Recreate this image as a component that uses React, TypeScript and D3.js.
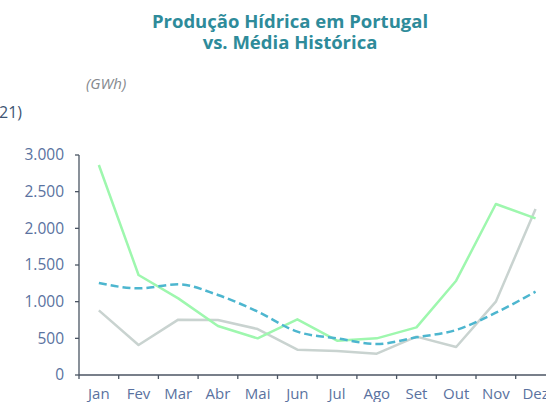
import React from "react";
import * as d3 from "d3";

const months = ["Jan", "Fev", "Mar", "Abr", "Mai", "Jun", "Jul", "Ago", "Set", "Out", "Nov", "Dez"];
const serieVerde = [2864, 1364, 1045, 668, 500, 759, 468, 500, 650, 1286, 2332, 2136];
const serieCinza = [882, 409, 755, 750, 627, 345, 327, 291, 523, 382, 1000, 2264];
const mediaHistorica = [1255, 1182, 1236, 1091, 864, 591, 500, 423, 514, 614, 850, 1136];
const yTicks = [0, 500, 1000, 1500, 2000, 2500, 3000];

const W = 546;
const H = 402;
const x0 = 79;
const bandW = 39.7;
const yBottom = 375;
const yTop = 155;

export default function App() {
  const x = d3.scaleBand<string>().domain(months).range([x0, x0 + bandW * 12]).padding(0);
  const y = d3.scaleLinear().domain([0, 3000]).range([yBottom, yTop]);
  const cx = (m: string) => (x(m) as number) + x.bandwidth() / 2;
  const fmt = (v: number) => d3.format(",")(v).replace(/,/g, ".");

  const lineLin = d3
    .line<number>()
    .x((_, i) => cx(months[i]))
    .y((v) => y(v));
  const lineSmooth = d3
    .line<number>()
    .x((_, i) => cx(months[i]))
    .y((v) => y(v))
    .curve(d3.curveMonotoneX);

  const labelColor = "#5a72a0";
  const axisColor = "#4b5563";
  const xEnd = x0 + bandW * 12;

  return (
    <svg width={W} height={H} style={{ position: "absolute", left: 0, top: 0 }}>
      <g fontFamily="Open Sans, sans-serif" fontWeight={700} fill="#2e8b9a" textAnchor="middle" fontSize={18.5}>
        <text x={290} y={28}>Produção Hídrica em Portugal</text>
        <text x={290} y={49}>vs. Média Histórica</text>
      </g>
      <text x={86} y={89} fontFamily="Open Sans, sans-serif" fontStyle="italic" fontSize={15} fill="#85898e">
        (GWh)
      </text>
      <text x={-1} y={118} fontFamily="Open Sans, sans-serif" fontSize={16} fill="#3e5573">
        21)
      </text>

      {/* y axis */}
      <line x1={x0} x2={x0} y1={yTop} y2={yBottom} stroke={axisColor} strokeWidth={1.3} />
      {yTicks.map((t) => (
        <g key={t}>
          <line x1={x0 - 4} x2={x0} y1={y(t)} y2={y(t)} stroke={axisColor} strokeWidth={1.3} />
          <text
            x={64}
            y={y(t)}
            dy="0.35em"
            textAnchor="end"
            fontFamily="Open Sans, sans-serif"
            fontSize={15.5}
            fill={labelColor}
          >
            {fmt(t)}
          </text>
        </g>
      ))}

      {/* x axis */}
      <line x1={x0} x2={xEnd} y1={yBottom} y2={yBottom} stroke={axisColor} strokeWidth={1.3} />
      {months.map((m) => (
        <g key={m}>
          <line x1={x(m) as number} x2={x(m) as number} y1={yBottom} y2={yBottom + 4} stroke={axisColor} strokeWidth={1.3} />
          <text
            x={cx(m)}
            y={399}
            textAnchor="middle"
            fontFamily="Open Sans, sans-serif"
            fontSize={15}
            fill={labelColor}
          >
            {m}
          </text>
        </g>
      ))}

      <path d={lineLin(serieCinza) || ""} fill="none" stroke="#c9d3d0" strokeWidth={2.5} strokeLinejoin="round" />
      <path d={lineLin(serieVerde) || ""} fill="none" stroke="#9ef7ae" strokeWidth={2.5} strokeLinejoin="round" />
      <path
        d={lineSmooth(mediaHistorica) || ""}
        fill="none"
        stroke="#4db6cf"
        strokeWidth={2.5}
        strokeDasharray="8 4"
      />
    </svg>
  );
}
